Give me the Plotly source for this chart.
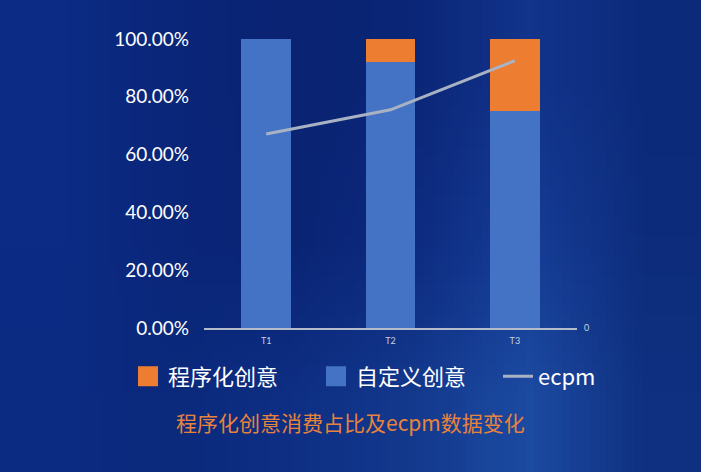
import base64
import struct
import zlib
import plotly.graph_objects as go

# data
categories = ["T1", "T2", "T3"]
custom_share = [1.00, 0.92, 0.75]      # 自定义创意
programmatic_share = [0.00, 0.08, 0.25]  # 程序化创意
ecpm = [0.671, 0.755, 0.925]
ytick_vals = [0, 0.2, 0.4, 0.6, 0.8, 1.0]
ytick_text = ["0.00%", "20.00%", "40.00%", "60.00%", "80.00%", "100.00%"]

ORANGE = "#ed7d31"
BLUE = "#4472c4"
GREY = "#a9b2c2"
FONT = "Lato, Noto Sans CJK SC, sans-serif"
CJK = "Noto Sans CJK SC, sans-serif"


# small png stretched behind the chart for the blue gradient
def gradient_png(rows):
    h = len(rows)
    w = len(rows[0])
    raw = b""
    for r in rows:
        raw += b"\x00"
        for c in r:
            raw += bytes.fromhex(c[1:])
    def chunk(tag, data):
        c = struct.pack(">I", len(data)) + tag + data
        return c + struct.pack(">I", zlib.crc32(tag + data) & 0xffffffff)
    png = b"\x89PNG\r\n\x1a\n"
    png += chunk(b"IHDR", struct.pack(">IIBBBBB", w, h, 8, 2, 0, 0, 0))
    png += chunk(b"IDAT", zlib.compress(raw))
    png += chunk(b"IEND", b"")
    return "data:image/png;base64," + base64.b64encode(png).decode()


bg = gradient_png([
    ["#0c2b84", "#0a2679", "#0a2372", "#0b2677", "#12348c", "#0c2a7a"],
    ["#0c2b84", "#0a2679", "#0a2474", "#0d2b80", "#163d96", "#0d2c7c"],
    ["#0b2a82", "#0b2a7c", "#0e2f84", "#13398d", "#1c4ba2", "#0f3080"],
])

fig = go.Figure()

fig.add_trace(go.Bar(x=categories, y=custom_share, marker_color=BLUE,
                     marker_line_width=0, width=0.4, showlegend=False,
                     name="自定义创意"))
fig.add_trace(go.Bar(x=categories, y=programmatic_share, marker_color=ORANGE,
                     marker_line_width=0, width=0.4, showlegend=False,
                     name="程序化创意"))
fig.add_trace(go.Scatter(x=categories, y=ecpm, mode="lines", name="ecpm",
                         line=dict(color=GREY, width=3), yaxis="y2",
                         legendrank=3, legendwidth=60))

# legend-only entries so the squares are bigger
fig.add_trace(go.Scatter(x=[None], y=[None], mode="markers", name="程序化创意",
                         marker=dict(symbol="square", size=16, color=ORANGE,
                                     line=dict(color=ORANGE, width=4)),
                         legendrank=1, legendwidth=143))
fig.add_trace(go.Scatter(x=[None], y=[None], mode="markers", name="自定义创意",
                         marker=dict(symbol="square", size=16, color=BLUE,
                                     line=dict(color=BLUE, width=4)),
                         legendrank=2, legendwidth=137))

fig.add_annotation(text="程序化创意消费占比及ecpm数据变化",
                   xref="paper", yref="paper", x=0.393, y=-0.325,
                   xanchor="center", yanchor="middle", showarrow=False,
                   font=dict(family=CJK, size=21, color="#e8833c"))

fig.update_layout(
    width=701, height=472,
    margin=dict(l=204, r=124, t=39, b=144, autoexpand=False),
    paper_bgcolor="#0b2679",
    plot_bgcolor="rgba(0,0,0,0)",
    barmode="stack",
    font=dict(family=FONT, color="white"),
    images=[dict(source=bg, xref="paper", yref="paper",
                 x=-204 / 373, y=1 + 39.3 / 288.4,
                 sizex=701 / 373, sizey=472 / 288.4,
                 sizing="stretch", layer="below")],
    xaxis=dict(showline=True, linecolor="#b4bccb", linewidth=2,
               ticks="", showgrid=False, zeroline=False,
               ticklabelstandoff=3,
               tickfont=dict(size=9, color="#c8d0e0")),
    yaxis=dict(range=[0, 1], tickvals=ytick_vals, ticktext=ytick_text,
               showgrid=False, zeroline=False, showline=False,
               ticklabelstandoff=14,
               tickfont=dict(size=19, color="white")),
    yaxis2=dict(range=[0, 1], overlaying="y", side="right",
                tickvals=[0], ticktext=["0"], showgrid=False,
                zeroline=False, showline=False, ticklabelstandoff=6,
                tickfont=dict(size=9, color="#c8d0e0")),
    legend=dict(orientation="h", traceorder="normal",
                x=(128 - 204) / 373, y=(327.7 - 376) / 288.4,
                xanchor="left", yanchor="middle",
                bgcolor="rgba(0,0,0,0)",
                font=dict(family=CJK, size=22, color="white")),
)

fig.write_html("out.html", config={"displayModeBar": False},
               post_script="document.body.style.margin='0';")
